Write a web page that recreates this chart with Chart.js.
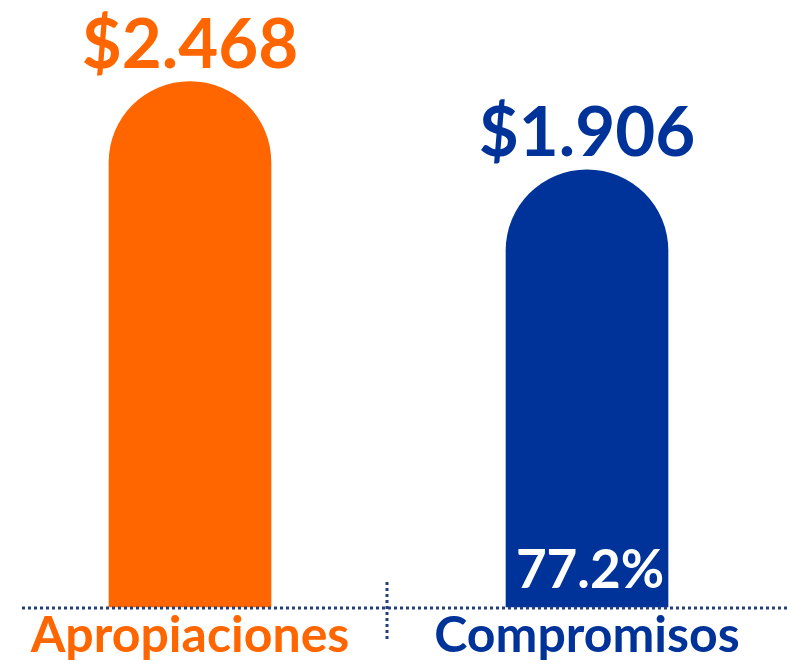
<!DOCTYPE html>
<html>
<head>
<meta charset="utf-8">
<script src="https://cdn.jsdelivr.net/npm/chart.js@4/dist/chart.umd.min.js"></script>
<style>
  html, body { margin: 0; padding: 0; background: #fff; }
  #wrap { width: 789px; height: 665px; position: relative; }
</style>
</head>
<body>
<div id="wrap"><canvas id="myChart"></canvas></div>
<script>
var ctx = document.getElementById('myChart').getContext('2d');

// data
let labels = ['Apropiaciones', 'Compromisos'];
let values = [2468, 1906];
let valueLabels = ['$2.468', '$1.906'];
let colors = ['#FF6600', '#003399'];
// bars in the picture do not start at zero, the axis floor sits lower
let axisFloor = -880;
let axisTop = 2950;

let pct = (values[1] / values[0] * 100).toFixed(1) + '%';

const font = 'Lato, "Open Sans", sans-serif';

// value labels above bars, percent inside second bar, dotted guides
const decorate = {
  id: 'decorate',
  afterDatasetsDraw: (chart) => {
    const c = chart.ctx;
    const meta = chart.getDatasetMeta(0);
    c.save();
    c.textAlign = 'center';
    c.textBaseline = 'alphabetic';
    meta.data.forEach((bar, i) => {
      c.fillStyle = colors[i];
      c.font = 'bold 69px ' + font;
      c.fillText(valueLabels[i], bar.x, bar.y - 14);
    });
    const b = meta.data[1];
    c.fillStyle = '#ffffff';
    c.font = 'bold 53px ' + font;
    c.fillText(pct, b.x + 3, b.base - 19);

    // dotted baseline and separator
    const y = chart.chartArea.bottom + 1;
    c.strokeStyle = '#23407A';
    c.lineWidth = 3;
    c.setLineDash([3, 3]);
    c.beginPath();
    c.moveTo(22, y);
    c.lineTo(789, y);
    c.stroke();
    c.beginPath();
    c.moveTo(387, 582);
    c.lineTo(387, 640);
    c.stroke();
    c.restore();
  }
};

new Chart(ctx, {
  type: 'bar',
  data: {
    labels: labels,
    datasets: [{
      data: values,
      base: axisFloor,
      backgroundColor: colors,
      barThickness: 162,
      borderRadius: { topLeft: 81, topRight: 81, bottomLeft: 0, bottomRight: 0 },
      borderSkipped: false,
      clip: false
    }]
  },
  options: {
    responsive: true,
    maintainAspectRatio: false,
    animation: false,
    layout: { padding: { top: 6, bottom: 0, left: 190, right: 202 } },
    plugins: { legend: { display: false }, tooltip: { enabled: false } },
    scales: {
      x: {
        offset: false,
        grid: { display: false, drawTicks: false },
        border: { display: false },
        ticks: {
          padding: 8,
          color: (c) => colors[c.index],
          font: { family: font, size: 50, weight: 'bold', lineHeight: 0.84 }
        }
      },
      y: {
        display: false,
        min: axisFloor,
        max: axisTop
      }
    }
  },
  plugins: [decorate]
});
</script>
</body>
</html>
